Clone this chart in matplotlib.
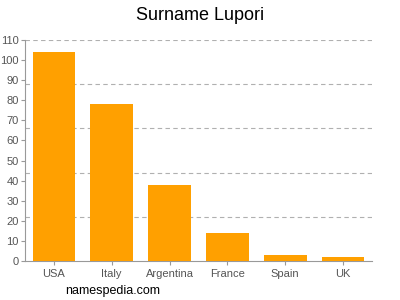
import matplotlib
matplotlib.use("Agg")
import matplotlib.pyplot as plt
import numpy as np

categories = ["USA", "Italy", "Argentina", "France", "Spain", "UK"]
values = [104, 78, 38, 14, 3, 2]
yticks = list(range(0, 111, 10))
grid_levels = [22, 44, 66, 88, 110]

plt.rcParams['font.family'] = ['Liberation Sans', 'DejaVu Sans']
fig = plt.figure(figsize=(4, 3), dpi=100)
ax = fig.add_axes([25/400, 1-261/300, (372-25)/400, (261-40)/300])
x = np.arange(len(categories))
ax.bar(x, values, width=0.74, color="#FFA000", zorder=3)
for g in grid_levels:
    ax.axhline(g, color="#b0b0b0", lw=0.8, ls=(0, (4, 3)), zorder=1)
ax.set_xlim(-0.5, len(categories) - 0.5)
ax.set_ylim(0, 110)
ax.set_yticks(yticks)
ax.set_xticks(x)
ax.set_xticklabels(categories)
for s in ["top", "right"]:
    ax.spines[s].set_visible(False)
for s in ["left", "bottom"]:
    ax.spines[s].set_color("#999999")
    ax.spines[s].set_linewidth(0.8)
ax.tick_params(axis="both", colors="#999999", labelcolor="#555555", labelsize=8, length=3, width=0.8)
ax.tick_params(axis="y", pad=1.5)
ax.tick_params(axis="x", pad=2.5)
fig.text(0.5, 1-15/300, "Surname Lupori", ha="center", va="center", fontsize=13, color="#000000")
fig.text(65/400, 1-291/300, "namespedia.com", ha="left", va="center", fontsize=9, color="#000000")
fig.savefig("out.png", dpi=100)
